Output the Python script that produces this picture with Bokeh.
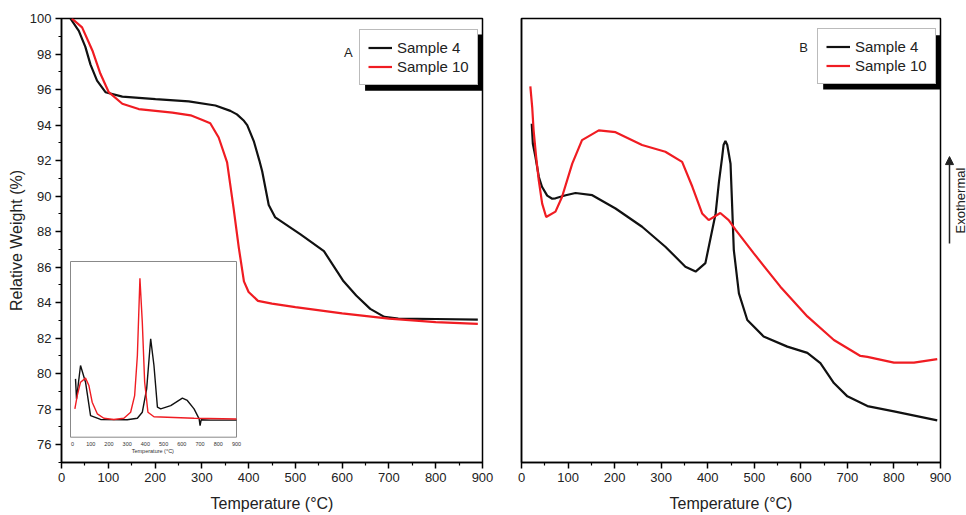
from math import pi
from bokeh.plotting import figure
from bokeh.models import Range1d, FixedTicker, Label, Arrow, NormalHead
from bokeh.layouts import row
from bokeh.embed import file_html
from bokeh.resources import INLINE
from bokeh.core.properties import value

FONT = "Liberation Sans"
BLACK = "#111111"
RED = "#f01c22"

# ---------------- Panel A: TG curves ----------------
tg_s4_temp = [19, 37, 51, 62, 76, 94, 130, 201, 272, 329, 361, 375, 390, 397, 411, 423, 429,
              443, 457, 511, 561, 603, 630, 660, 690, 720, 800, 890]
tg_s4_wt = [100, 99.3, 98.4, 97.4, 96.5, 95.85, 95.6, 95.46, 95.33, 95.1, 94.8, 94.6, 94.24, 94.0,
            93.1, 92.0, 91.4, 89.5, 88.8, 87.84, 86.9, 85.2, 84.4, 83.65, 83.2, 83.1, 83.08, 83.05]

tg_s10_temp = [22, 44, 66, 83, 101, 130, 165, 237, 276, 300, 318, 336, 354, 368, 379, 390, 400,
               420, 450, 500, 600, 700, 800, 890]
tg_s10_wt = [100, 99.5, 98.2, 96.9, 95.85, 95.2, 94.9, 94.7, 94.55, 94.3, 94.1, 93.3, 91.9, 89.3,
             87.1, 85.2, 84.6, 84.1, 83.95, 83.75, 83.4, 83.1, 82.9, 82.8]

# inset (DTG, arbitrary units 0-100)
dtg_s4_temp = [16.5, 22, 44, 71.5, 99, 154, 300, 356, 383, 407, 429, 447, 466, 484, 539, 603, 630,
               667, 695, 700, 706, 759, 900]
dtg_s4_val = [33.2, 21.8, 40.8, 31.3, 12.3, 10.1, 9.9, 10.8, 14.2, 27.5, 56.0, 40.8, 17.1, 16.1,
              18.0, 22.2, 20.9, 16.1, 10.4, 6.6, 9.9, 9.7, 9.7]
dtg_s10_temp = [13, 26, 44, 71.5, 90, 108, 136, 172, 227, 282, 319, 341, 356, 370, 383, 396, 414,
                447, 667, 900]
dtg_s10_val = [16.1, 23.7, 31.3, 33.6, 29.4, 19.9, 13.3, 10.8, 10.1, 10.8, 14.2, 23.7, 46.5, 90.5,
               65.5, 31.3, 14.2, 11.6, 10.8, 10.4]

# ---------------- Panel B: DSC curves (a.u.) ----------------
dsc_s4_temp = [22, 24.4, 30, 37.3, 44, 55.2, 66, 73, 95, 116, 152, 202, 259, 309, 352, 374, 395,
               417, 424, 431, 434, 438, 442, 449, 452, 456, 467, 485, 520, 571, 614, 642, 671, 700,
               743, 800, 893]
dsc_s4_val = [76.3, 71.8, 68.8, 64.3, 62.1, 60.1, 59.4, 59.5, 60.2, 60.7, 60.2, 57.2, 53.1, 48.6,
              44.1, 43.0, 44.9, 56.1, 63.1, 68.8, 71.5, 72.4, 71.5, 67.3, 59.1, 47.9, 38.1, 32.1,
              28.4, 26.1, 24.7, 22.4, 17.9, 14.9, 12.7, 11.5, 9.5]
dsc_s10_temp = [19, 23, 26, 31.5, 37, 44.4, 53, 73, 87, 109, 130, 166, 202, 259, 309, 345, 367,
                388, 402, 427, 445, 460, 499, 556, 614, 671, 728, 743, 800, 843, 893]
dsc_s10_val = [84.7, 80.0, 74.8, 68.8, 63.6, 58.3, 55.3, 56.5, 59.8, 67.3, 72.6, 74.8, 74.4, 71.5,
               70.0, 67.7, 62.1, 56.1, 54.6, 56.2, 54.6, 52.4, 47.1, 39.6, 32.9, 27.6, 24.0, 23.8,
               22.5, 22.5, 23.3]

x_ticks = list(range(0, 901, 100))
x_minor = list(range(50, 900, 100))
y_ticks = list(range(76, 101, 2))
y_minor = list(range(75, 100, 2))
inset_tick_labels = [str(t) for t in x_ticks]


def style_axes(p):
    p.xgrid.visible = False
    p.ygrid.visible = False
    p.outline_line_color = "black"
    p.outline_line_width = 1.5
    p.outline_line_alpha = 1
    for ax in list(p.xaxis) + list(p.yaxis):
        ax.axis_line_width = 1.5
        ax.axis_line_color = "black"
        ax.major_tick_line_width = 1.5
        ax.major_tick_line_color = "black"
        ax.minor_tick_line_color = "black"
        ax.minor_tick_line_width = 1.2
        ax.major_tick_out = 6
        ax.major_tick_in = 0
        ax.minor_tick_out = 3
        ax.minor_tick_in = 0
        ax.major_label_text_font = FONT
        ax.major_label_text_font_size = "13px"
        ax.major_label_text_color = "#222222"
        ax.axis_label_text_font = FONT
        ax.axis_label_text_font_size = "16px"
        ax.axis_label_text_font_style = "normal"
        ax.axis_label_text_color = "#222222"
        ax.major_label_standoff = 4
    p.xaxis.axis_label_standoff = 10
    p.xaxis.ticker = FixedTicker(ticks=x_ticks, minor_ticks=x_minor)
    p.xaxis.axis_label = "Temperature (°C)"


def style_legend(p, loc):
    lg = p.legend[0]
    lg.location = loc
    lg.label_text_font = FONT
    lg.label_text_font_size = "15px"
    lg.label_text_color = "#222222"
    lg.glyph_width = 24
    lg.glyph_height = 19
    lg.label_height = 19
    lg.label_standoff = 5
    lg.padding = 8
    lg.spacing = 0
    lg.margin = 0
    lg.border_line_color = "#777777"
    lg.border_line_width = 1
    lg.background_fill_alpha = 1


# ---------------- Figure A ----------------
pA = figure(frame_width=421, frame_height=444, x_range=Range1d(0, 900), y_range=Range1d(75, 100),
            output_backend="svg", toolbar_location=None,
            min_border_left=61, min_border_right=18, min_border_top=18, min_border_bottom=48)
style_axes(pA)
pA.yaxis.ticker = FixedTicker(ticks=y_ticks, minor_ticks=y_minor)
pA.yaxis.axis_label = "Relative Weight (%)"
pA.yaxis.axis_label_standoff = 2

pA.extra_x_ranges = {"ix": Range1d(-60.4, 2250)}
pA.extra_y_ranges = {"iy": Range1d(-14.4, 238.3)}

# legend shadow
pA.quad(left=[649], right=[904], bottom=[95.93], top=[99.1], fill_color="black", line_color=None)

pA.line(tg_s4_temp, tg_s4_wt, line_color=BLACK, line_width=2.2, legend_label="Sample 4")
pA.line(tg_s10_temp, tg_s10_wt, line_color=RED, line_width=2.2, legend_label="Sample 10")
style_legend(pA, (298, 377))

# inset
pA.quad(left=[-11], right=[900], bottom=[0], top=[100], fill_color="white", line_color="#888888",
        line_width=1, x_range_name="ix", y_range_name="iy")
pA.line(dtg_s4_temp, dtg_s4_val, line_color=BLACK, line_width=1.4, x_range_name="ix", y_range_name="iy")
pA.line(dtg_s10_temp, dtg_s10_val, line_color=RED, line_width=1.4, x_range_name="ix", y_range_name="iy")
pA.text(x=x_ticks, y=[-3.6] * len(x_ticks), text=inset_tick_labels, text_font=value(FONT),
        text_font_size="5.5px", text_align="center", text_baseline="middle", text_color="#333333",
        x_range_name="ix", y_range_name="iy")
pA.text(x=[445], y=[-7.8], text=["Temperature  (°C)"], text_font=value(FONT),
        text_font_size="5.5px", text_align="center", text_baseline="middle", text_color="#333333",
        x_range_name="ix", y_range_name="iy")

pA.add_layout(Label(x=613, y=98.08, text="A", text_font=FONT, text_font_size="13px",
                    text_align="center", text_baseline="middle", text_color="#222222"))

# ---------------- Figure B ----------------
pB = figure(frame_width=419, frame_height=444, x_range=Range1d(0, 900), y_range=Range1d(0, 100),
            output_backend="svg", toolbar_location=None,
            min_border_left=21, min_border_right=14, min_border_top=18, min_border_bottom=48)
style_axes(pB)
pB.yaxis.ticker = FixedTicker(ticks=[])
pB.yaxis.major_label_text_font_size = "0px"

pB.quad(left=[648], right=[904], bottom=[84.0], top=[96.2], fill_color="black", line_color=None)
pB.line(dsc_s4_temp, dsc_s4_val, line_color=BLACK, line_width=2.2, legend_label="Sample 4")
pB.line(dsc_s10_temp, dsc_s10_val, line_color=RED, line_width=2.2, legend_label="Sample 10")
style_legend(pB, (296, 378))

pB.add_layout(Label(x=606, y=93.5, text="B", text_font=FONT, text_font_size="13px",
                    text_align="center", text_baseline="middle", text_color="#222222"))

# ---------------- Side strip with the Exothermal arrow ----------------
pC = figure(frame_width=26, frame_height=444, x_range=Range1d(0, 26), y_range=Range1d(0, 100),
            x_axis_location=None, y_axis_location=None, output_backend="svg",
            toolbar_location=None, min_border_left=0, min_border_right=0, min_border_top=18,
            min_border_bottom=48, margin=(0, 0, 0, -14))
pC.outline_line_color = None
pC.background_fill_alpha = 0
pC.border_fill_alpha = 0
pC.xgrid.visible = False
pC.ygrid.visible = False
pC.add_layout(Arrow(x_start=9, y_start=49.3, x_end=9, y_end=68.9, line_width=1.5,
                    line_color="#222222",
                    end=NormalHead(size=8, fill_color="#222222", line_color="#222222")))
pC.add_layout(Label(x=12, y=59.0, text="Exothermal", angle=pi / 2, text_font=FONT,
                    text_font_size="13px", text_align="center", text_baseline="top",
                    text_color="#222222"))

layout = row(pA, pB, pC)
open("out.html", "w").write(file_html(layout, INLINE))
